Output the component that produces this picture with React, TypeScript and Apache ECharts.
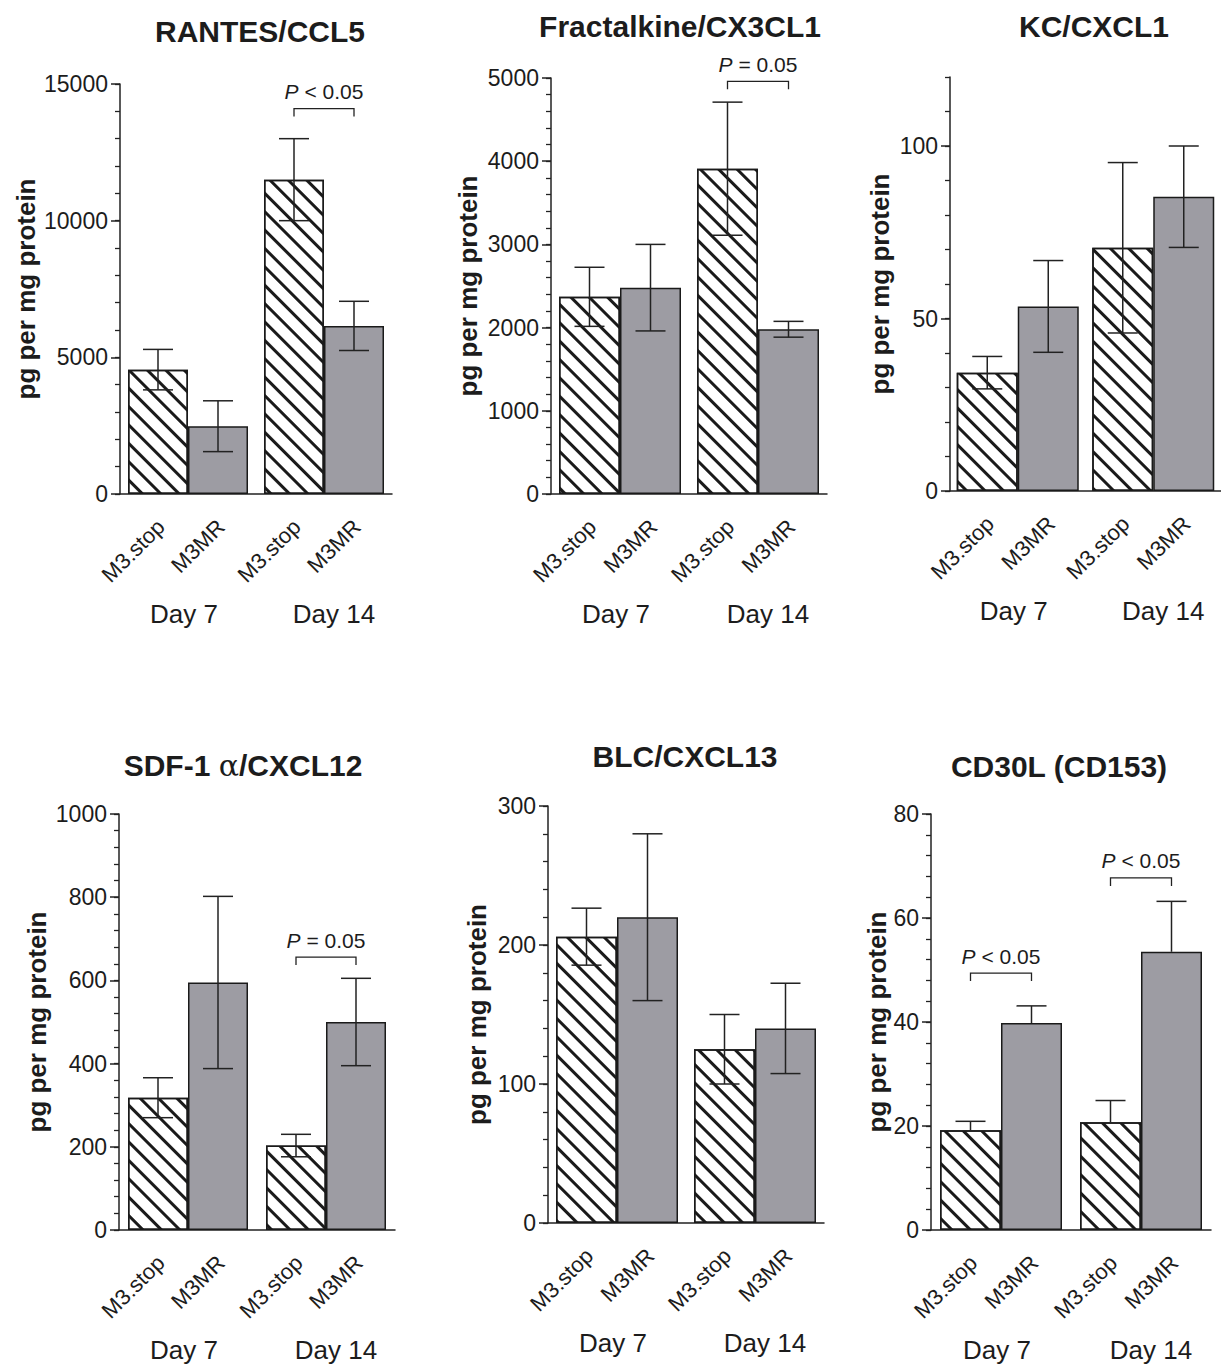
import React, { useEffect, useRef } from 'react';
import * as echarts from 'echarts';

// ---------- data ----------
const DAYS = ['Day 7', 'Day 14'];
const GROUPS = ['M3.stop', 'M3MR'];

const rantesStop = [4550, 11500];
const rantesStopErr = [740, 1500];
const rantesMR = [2480, 6150];
const rantesMRErr = [930, 900];

const fracStop = [2370, 3910];
const fracStopErr = [355, 800];
const fracMR = [2480, 1980];
const fracMRErr = [520, 95];

const kcStop = [34.3, 70.5];
const kcStopErr = [4.7, 24.7];
const kcMR = [53.5, 85.3];
const kcMRErr = [13.3, 14.7];

const sdfStop = [318, 203];
const sdfStopErr = [48, 27];
const sdfMR = [595, 500];
const sdfMRErr = [207, 105];

const blcStop = [206, 125];
const blcStopErr = [20.5, 25];
const blcMR = [220, 140];
const blcMRErr = [60, 32.5];

const cd30Stop = [19.2, 20.7];
const cd30StopErr = [1.7, 4.2];
const cd30MR = [39.8, 53.5];
const cd30MRErr = [3.3, 9.7];

// significance brackets: [day index, bracket height (axis units), label]
const rantesSig: [number, number, string][] = [[1, 14100, '< 0.05']];
const fracSig: [number, number, string][] = [[1, 4960, '= 0.05']];
const kcSig: [number, number, string][] = [];
const sdfSig: [number, number, string][] = [[1, 656, '= 0.05']];
const blcSig: [number, number, string][] = [];
const cd30Sig: [number, number, string][] = [[0, 49.4, '< 0.05'], [1, 67.7, '< 0.05']];

// axis ticks
const rantesTicks = [0, 5000, 10000, 15000];
const fracTicks = [0, 1000, 2000, 3000, 4000, 5000];
const kcTicks = [0, 50, 100];
const sdfTicks = [0, 200, 400, 600, 800, 1000];
const blcTicks = [0, 100, 200, 300];
const cd30Ticks = [0, 20, 40, 60, 80];

const FONT = "'Liberation Sans', Arial, Helvetica, sans-serif";
const INK = '#1c1c1c';
const GREY = '#9d9ca3';

type Panel = {
  title: string;
  titleRich?: boolean;
  titleX: number;
  titleY: number;
  left: number;
  top: number;
  width: number;
  height: number;
  bw: number;
  nameGap: number;
  max: number;
  ticks: number[];
  minor: number;
  stop: number[];
  stopErr: number[];
  mr: number[];
  mrErr: number[];
  sig: [number, number, string][];
  upperOnly?: boolean;
};

const panels: Panel[] = [
  { title: 'RANTES/CCL5', titleX: 260, titleY: 31, left: 120, top: 84, width: 272, height: 410, bw: 60, nameGap: 81,
    max: 15000, ticks: rantesTicks, minor: 1000, stop: rantesStop, stopErr: rantesStopErr, mr: rantesMR, mrErr: rantesMRErr, sig: rantesSig },
  { title: 'Fractalkine/CX3CL1', titleX: 680, titleY: 26, left: 551, top: 78, width: 276, height: 416, bw: 61, nameGap: 70,
    max: 5000, ticks: fracTicks, minor: 200, stop: fracStop, stopErr: fracStopErr, mr: fracMR, mrErr: fracMRErr, sig: fracSig },
  { title: 'KC/CXCL1', titleX: 1094, titleY: 26, left: 950, top: 77, width: 276, height: 414, bw: 61, nameGap: 57,
    max: 120, ticks: kcTicks, minor: 10, stop: kcStop, stopErr: kcStopErr, mr: kcMR, mrErr: kcMRErr, sig: kcSig },
  { title: 'SDF-1 α/CXCL12', titleRich: true, titleX: 243, titleY: 765, left: 119, top: 814, width: 276, height: 416, bw: 60, nameGap: 69,
    max: 1000, ticks: sdfTicks, minor: 40, stop: sdfStop, stopErr: sdfStopErr, mr: sdfMR, mrErr: sdfMRErr, sig: sdfSig },
  { title: 'BLC/CXCL13', titleX: 685, titleY: 756, left: 548, top: 806, width: 276, height: 417, bw: 61, nameGap: 58,
    max: 300, ticks: blcTicks, minor: 20, stop: blcStop, stopErr: blcStopErr, mr: blcMR, mrErr: blcMRErr, sig: blcSig },
  { title: 'CD30L (CD153)', titleX: 1059, titleY: 766, left: 931, top: 814, width: 280, height: 416, bw: 61, nameGap: 41,
    max: 80, ticks: cd30Ticks, minor: 4, stop: cd30Stop, stopErr: cd30StopErr, mr: cd30MR, mrErr: cd30MRErr, sig: cd30Sig, upperOnly: true },
];

const lineStyle = { stroke: '#222', lineWidth: 1.5 };

function errRender(bw: number, upperOnly: boolean) {
  return (_params: any, api: any) => {
    const c = api.value(0);
    const s = api.value(1);
    const m = api.value(2);
    const e = api.value(3);
    const base = api.coord([c, m]);
    const x = base[0] + (s === 0 ? -bw / 2 : bw / 2);
    const yTop = api.coord([c, m + e])[1];
    const yBot = upperOnly ? base[1] : api.coord([c, m - e])[1];
    const cap = 15;
    const children: any[] = [
      { type: 'line', shape: { x1: x, y1: yTop, x2: x, y2: yBot }, style: lineStyle },
      { type: 'line', shape: { x1: x - cap, y1: yTop, x2: x + cap, y2: yTop }, style: lineStyle },
    ];
    if (!upperOnly) {
      children.push({ type: 'line', shape: { x1: x - cap, y1: yBot, x2: x + cap, y2: yBot }, style: lineStyle });
    }
    return { type: 'group', children };
  };
}

function sigRender(bw: number, labels: string[]) {
  return (params: any, api: any) => {
    const c = api.value(0);
    const v = api.value(1);
    const p = api.coord([c, v]);
    const l = p[0] - bw / 2;
    const r = p[0] + bw / 2;
    const y = p[1];
    return {
      type: 'group',
      children: [
        { type: 'polyline', shape: { points: [[l, y + 8], [l, y], [r, y], [r, y + 8]] }, style: { stroke: '#222', lineWidth: 1.3, fill: 'none' } },
        {
          type: 'text',
          style: {
            text: '{i|P} ' + labels[params.dataIndex],
            x: (l + r) / 2,
            y: y - 17,
            align: 'center',
            verticalAlign: 'middle',
            fontSize: 21,
            fontFamily: FONT,
            fill: INK,
            rich: { i: { fontStyle: 'italic', fontSize: 21, fontFamily: FONT, fill: INK } },
          },
        },
      ],
    };
  };
}

function buildOption() {
  const grid: any[] = [];
  const xAxis: any[] = [];
  const yAxis: any[] = [];
  const series: any[] = [];
  const graphic: any[] = [];

  panels.forEach((p, i) => {
    grid.push({ left: p.left, top: p.top, width: p.width, height: p.height });
    xAxis.push({
      type: 'category',
      gridIndex: i,
      data: DAYS,
      axisLine: { show: true, lineStyle: { color: '#222', width: 1.5 } },
      axisTick: { show: false },
      axisLabel: {
        interval: 0,
        margin: 107,
        color: INK,
        fontFamily: FONT,
        fontSize: 26,
        formatter: (v: string, idx: number) => (idx === 0 ? `{a|${v}}` : `{b|${v}}`),
        rich: {
          a: { fontSize: 26, fontFamily: FONT, color: INK, padding: [0, 8, 0, 0] },
          b: { fontSize: 26, fontFamily: FONT, color: INK, padding: [0, 0, 0, 20] },
        },
      },
      splitLine: { show: false },
    });
    const step = p.ticks[1] - p.ticks[0];
    yAxis.push({
      type: 'value',
      gridIndex: i,
      position: 'left',
      min: 0,
      max: p.max,
      interval: step,
      name: 'pg per mg protein',
      nameLocation: 'middle',
      nameGap: p.nameGap,
      nameRotate: 90,
      nameTextStyle: { fontFamily: FONT, fontSize: 26, fontWeight: 'bold', color: INK },
      axisLine: { show: true, lineStyle: { color: '#222', width: 1.5 } },
      axisTick: { show: true, length: 9, customValues: p.ticks, lineStyle: { color: '#222', width: 1.5 } },
      axisLabel: {
        show: true,
        customValues: p.ticks,
        margin: 12,
        fontFamily: FONT,
        fontSize: 23,
        color: INK,
        formatter: (v: number) => (p.ticks.indexOf(v) >= 0 ? String(v) : ''),
      },
      splitLine: { show: false },
    });
    yAxis.push({
      type: 'value',
      gridIndex: i,
      position: 'left',
      min: 0,
      max: p.max,
      interval: p.minor,
      axisLine: { show: false },
      axisTick: { show: true, length: 5, lineStyle: { color: '#222', width: 1.3 } },
      axisLabel: { show: false },
      splitLine: { show: false },
    });

    const yIdx = 2 * i;
    const labelCfg = {
      show: true,
      position: 'bottom',
      distance: 32,
      rotate: 45,
      align: 'right',
      verticalAlign: 'middle',
      offset: [4, 0],
      formatter: '{a}',
      fontFamily: FONT,
      fontSize: 22,
      color: INK,
    };
    series.push({
      type: 'bar',
      name: GROUPS[0],
      xAxisIndex: i,
      yAxisIndex: yIdx,
      data: p.stop,
      barWidth: p.bw,
      barGap: '0%',
      itemStyle: {
        color: '#ffffff',
        borderColor: '#1a1a1a',
        borderWidth: 1.5,
        decal: {
          symbol: 'rect',
          symbolSize: 1,
          dashArrayX: [1, 0],
          dashArrayY: [2.4, 9.4],
          rotation: Math.PI / 4,
          color: '#1a1a1a',
        },
      },
      label: labelCfg,
      z: 2,
    });
    series.push({
      type: 'bar',
      name: GROUPS[1],
      xAxisIndex: i,
      yAxisIndex: yIdx,
      data: p.mr,
      barWidth: p.bw,
      barGap: '0%',
      itemStyle: { color: GREY, borderColor: '#1a1a1a', borderWidth: 1.5 },
      label: labelCfg,
      z: 2,
    });
    const errData: number[][] = [];
    p.stop.forEach((m, d) => errData.push([d, 0, m, p.stopErr[d]]));
    p.mr.forEach((m, d) => errData.push([d, 1, m, p.mrErr[d]]));
    series.push({
      type: 'custom',
      xAxisIndex: i,
      yAxisIndex: yIdx,
      data: errData,
      encode: { x: 0, y: 2 },
      renderItem: errRender(p.bw, !!p.upperOnly),
      z: 5,
      silent: true,
    });
    if (p.sig.length) {
      series.push({
        type: 'custom',
        xAxisIndex: i,
        yAxisIndex: yIdx,
        data: p.sig.map((s) => [s[0], s[1]]),
        encode: { x: 0, y: 1 },
        renderItem: sigRender(p.bw, p.sig.map((s) => s[2])),
        z: 5,
        silent: true,
      });
    }

    if (p.titleRich) {
      graphic.push({
        type: 'text',
        x: p.titleX,
        y: p.titleY,
        style: {
          text: '{b|SDF-1 }{a|α}{b|/CXCL12}',
          align: 'center',
          verticalAlign: 'middle',
          rich: {
            b: { fontFamily: FONT, fontSize: 30, fontWeight: 'bold', fill: INK },
            a: { fontFamily: "'DejaVu Serif', serif", fontSize: 30, fontWeight: 'normal', fill: INK },
          },
        },
      });
    } else {
      graphic.push({
        type: 'text',
        x: p.titleX,
        y: p.titleY,
        style: {
          text: p.title,
          align: 'center',
          verticalAlign: 'middle',
          fontFamily: FONT,
          fontSize: 30,
          fontWeight: 'bold',
          fill: INK,
        },
      });
    }
  });

  return {
    animation: false,
    backgroundColor: '#ffffff',
    grid,
    xAxis,
    yAxis,
    series,
    graphic,
  };
}

export default function App() {
  const ref = useRef<HTMLDivElement>(null);
  useEffect(() => {
    document.body.style.margin = '0';
    if (!ref.current) return;
    const chart = echarts.init(ref.current, null, { renderer: 'svg' });
    chart.setOption(buildOption() as any);
    return () => chart.dispose();
  }, []);
  return <div ref={ref} style={{ width: 1221, height: 1368, background: '#fff' }} />;
}
